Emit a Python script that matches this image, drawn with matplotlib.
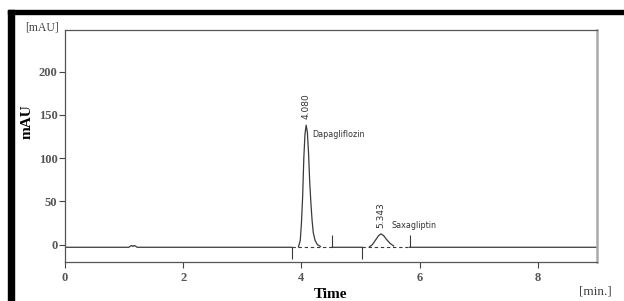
import numpy as np
import matplotlib
matplotlib.use("Agg")
import matplotlib.pyplot as plt
from matplotlib.patches import Rectangle

# chromatogram trace (time in min, signal in mAU)
time = [0.0, 1.00, 1.08, 1.11, 1.13, 1.15, 1.17, 1.19, 1.22, 1.30,
        3.84, 3.90, 3.95, 3.98, 4.00, 4.02, 4.04, 4.06, 4.08, 4.10,
        4.12, 4.14, 4.16, 4.18, 4.20, 4.23, 4.27, 4.32, 4.40, 4.52,
        5.03, 5.10, 5.15, 5.20, 5.25, 5.30, 5.343, 5.39, 5.44, 5.50,
        5.56, 5.65, 5.83, 9.0]
signal = [-3, -3, -3, -1.5, -1, -2, -1, -1.5, -3, -3,
          -3, -3, -2.5, 5, 25, 55, 100, 128, 138, 130,
          106, 72, 48, 28, 14, 5, 0, -2, -3, -3,
          -3, -3, -2.5, 0, 5, 10, 12.5, 10.5, 6, 1.5,
          -1.5, -3, -3, -3]

peak_rt = [4.080, 5.343]
peak_names = ["Dapagliflozin", "Saxagliptin"]
peak_tops = [138, 12.5]
windows = [(3.84, 4.52), (5.03, 5.83)]
baseline = -3

xticks = [0, 2, 4, 6, 8]
yticks = [0, 50, 100, 150, 200]

fig = plt.figure(figsize=(6.24, 3.01), dpi=100)
ax = fig.add_axes([0.1042, 0.1296, 0.8525, 0.7707])

t = np.array(time)
s = np.array(signal, dtype=float)
inside = np.zeros_like(t, dtype=bool)
for a, b in windows:
    inside |= (t > a) & (t < b)
s_plot = np.where(inside & (s <= -2.8), np.nan, s)

# solid trace, dashed baseline under the integrated peaks
ax.plot(t, s_plot, color="#3a3a3a", lw=0.9)
for a, b in windows:
    ax.plot([a, b], [baseline, baseline], color="#3a3a3a", lw=0.8,
            ls=(0, (3, 2.5)))

# integration marks
ax.vlines([windows[0][0], windows[1][0]], baseline, -17, color="#3a3a3a", lw=0.8)
ax.vlines([windows[0][1], windows[1][1]], baseline, 11.5, color="#3a3a3a", lw=0.8)

# peak labels
for rt, top in zip(peak_rt, peak_tops):
    ax.text(rt, top + 7, "%.3f" % rt, rotation=90, ha="center", va="bottom",
            fontsize=6.5, color="#333333", family="DejaVu Sans")
ax.text(4.19, 127, peak_names[0], fontsize=5.8, color="#333333", va="center")
ax.text(5.53, 22, peak_names[1], fontsize=5.8, color="#333333", va="center")

ax.set_xlim(0, 9)
ax.set_ylim(-20, 248)
ax.set_xticks(xticks)
ax.set_yticks(yticks)
ax.set_xticklabels([str(v) for v in xticks], family="Liberation Serif",
                   fontweight="bold", fontsize=9, color="#555555")
ax.set_yticklabels([str(v) for v in yticks], family="Liberation Serif",
                   fontweight="bold", fontsize=9, color="#555555")
ax.tick_params(axis="both", length=4, width=0.8, color="#444444", pad=1.5)
ax.tick_params(axis="x", pad=3)

for side in ["left", "bottom", "top"]:
    ax.spines[side].set_color("#555555")
    ax.spines[side].set_linewidth(0.9)
ax.spines["right"].set_color("#aaaaaa")
ax.spines["right"].set_linewidth(1.8)

fig.text(0.529, 0.020, "Time", family="Liberation Serif", fontweight="bold",
         fontsize=11, ha="center", va="center")
fig.text(0.043, 0.595, "mAU", family="Liberation Serif", fontweight="bold",
         fontsize=11, rotation=90, ha="center", va="center")

fig.text(0.094, 0.910, "[mAU]", family="Liberation Serif", fontsize=8.5,
         color="#444444", ha="right", va="center")
fig.text(0.981, 0.033, "[min.]", family="Liberation Serif", fontsize=9.5,
         color="#444444", ha="right", va="center")

# black frame bands of the screenshot
fig.patches.append(Rectangle((0.0128, 0.953), 0.99, 0.014, transform=fig.transFigure,
                             color="black", zorder=5))
fig.patches.append(Rectangle((0.0128, 0.0), 0.0096, 0.967, transform=fig.transFigure,
                             color="black", zorder=5))

plt.savefig("out.png", dpi=100)
